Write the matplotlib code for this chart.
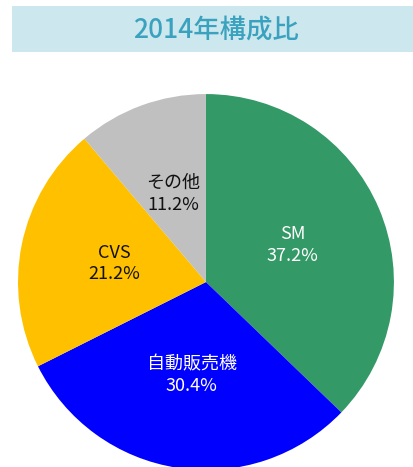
import matplotlib.pyplot as plt
from matplotlib.patches import Rectangle

plt.rcParams['font.family'] = ['Noto Sans CJK JP', 'DejaVu Sans']

# data
names = ['SM', '自動販売機', 'CVS', 'その他']
shares = [37.2, 30.4, 21.2, 11.2]
colors = ['#339966', '#0000FF', '#FFC000', '#C0C0C0']
text_colors = ['white', 'white', '#111111', '#111111']
title = '2014年構成比'

fig = plt.figure(figsize=(4.14, 4.67), dpi=100)

# title bar
fig.patches.append(Rectangle((12 / 414, 1 - 52 / 467), 402 / 414, 46 / 467,
                             transform=fig.transFigure, facecolor='#CCE8EE',
                             edgecolor='none'))
fig.text(216 / 414, 1 - 30 / 467, title, ha='center', va='center',
         fontsize=19, color='#3AA2BF', fontweight='medium')

ax = fig.add_axes([0.0435, -0.0064, 0.908, 0.805])
labels = [f'{n}\n{v:.1f}%' for n, v in zip(names, shares)]
wedges, texts = ax.pie(shares, colors=colors, startangle=90, counterclock=False,
                       labels=labels, labeldistance=0.5,
                       wedgeprops=dict(edgecolor='none'),
                       textprops=dict(fontsize=13, ha='center', va='center',
                                      linespacing=1.25))
for t, c in zip(texts, text_colors):
    t.set_color(c)
    t.set_horizontalalignment('center')
ax.set_aspect('equal')
ax.set_xlim(-1, 1)
ax.set_ylim(-1, 1)

fig.savefig('out.png', dpi=100)
